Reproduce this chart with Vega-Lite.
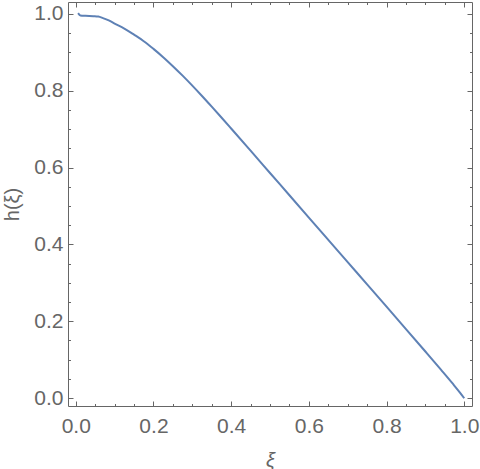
{
  "$schema": "https://vega.github.io/schema/vega-lite/v6.json",
  "width": 404,
  "height": 404,
  "autosize": {"type": "none"},
  "padding": {"left": 68, "top": 2, "right": 8, "bottom": 63},
  "background": "white",
  "data": {"values": [
    {"xi": 0.006, "h": 1.002},
    {"xi": 0.012, "h": 0.996},
    {"xi": 0.025, "h": 0.995},
    {"xi": 0.045, "h": 0.994},
    {"xi": 0.058, "h": 0.993},
    {"xi": 0.070, "h": 0.989},
    {"xi": 0.085, "h": 0.983},
    {"xi": 0.100, "h": 0.975},
    {"xi": 0.125, "h": 0.962},
    {"xi": 0.150, "h": 0.946},
    {"xi": 0.175, "h": 0.929},
    {"xi": 0.200, "h": 0.909},
    {"xi": 0.225, "h": 0.8875},
    {"xi": 0.250, "h": 0.864},
    {"xi": 0.275, "h": 0.8393},
    {"xi": 0.300, "h": 0.8133},
    {"xi": 0.325, "h": 0.7863},
    {"xi": 0.350, "h": 0.7585},
    {"xi": 0.375, "h": 0.7303},
    {"xi": 0.400, "h": 0.7017},
    {"xi": 0.450, "h": 0.644},
    {"xi": 0.500, "h": 0.586},
    {"xi": 0.550, "h": 0.528},
    {"xi": 0.600, "h": 0.470},
    {"xi": 0.650, "h": 0.412},
    {"xi": 0.700, "h": 0.354},
    {"xi": 0.750, "h": 0.296},
    {"xi": 0.800, "h": 0.238},
    {"xi": 0.850, "h": 0.1798},
    {"xi": 0.900, "h": 0.1213},
    {"xi": 0.940, "h": 0.0741},
    {"xi": 0.970, "h": 0.0381},
    {"xi": 0.990, "h": 0.0131},
    {"xi": 1.000, "h": -0.0004}
  ]},
  "layer": [
    {
      "mark": {"type": "line", "color": "#5E81B5", "strokeWidth": 2, "interpolate": "monotone"},
      "encoding": {
        "x": {"field": "xi", "type": "quantitative",
          "scale": {"domain": [-0.02, 1.02], "nice": false, "zero": false},
          "axis": {"orient": "bottom", "values": [0, 0.2, 0.4, 0.6, 0.8, 1], "format": ".1f",
            "tickSize": -5, "labelPadding": 14, "title": "ξ", "titleFontStyle": "italic",
            "titleX": 202, "titleY": 54, "titleBaseline": "middle", "titleAlign": "center"}},
        "y": {"field": "h", "type": "quantitative",
          "scale": {"domain": [-0.0205, 1.031], "nice": false, "zero": false},
          "axis": {"orient": "left", "values": [0, 0.2, 0.4, 0.6, 0.8, 1], "format": ".1f",
            "tickSize": -5, "labelPadding": 10, "title": "h(ξ)",
            "titleX": -56, "titleY": 202, "titleAngle": -90, "titleBaseline": "middle", "titleAlign": "center"}}
      }
    },
    {
      "mark": {"type": "line", "opacity": 0},
      "encoding": {
        "x": {"field": "xi", "type": "quantitative",
          "axis": {"orient": "bottom", "values": [0.05, 0.1, 0.15, 0.25, 0.3, 0.35, 0.45, 0.5, 0.55, 0.65, 0.7, 0.75, 0.85, 0.9, 0.95],
            "tickSize": -2.5, "labels": false, "domain": false, "title": null}},
        "y": {"field": "h", "type": "quantitative",
          "axis": {"orient": "left", "values": [0.05, 0.1, 0.15, 0.25, 0.3, 0.35, 0.45, 0.5, 0.55, 0.65, 0.7, 0.75, 0.85, 0.9, 0.95],
            "tickSize": -2.5, "labels": false, "domain": false, "title": null}}
      }
    },
    {
      "mark": {"type": "line", "opacity": 0},
      "encoding": {
        "x": {"field": "xi", "type": "quantitative",
          "axis": {"orient": "top", "values": [0, 0.2, 0.4, 0.6, 0.8, 1],
            "tickSize": -5, "labels": false, "title": null}},
        "y": {"field": "h", "type": "quantitative",
          "axis": {"orient": "right", "values": [0, 0.2, 0.4, 0.6, 0.8, 1],
            "tickSize": -5, "labels": false, "title": null}}
      }
    },
    {
      "mark": {"type": "line", "opacity": 0},
      "encoding": {
        "x": {"field": "xi", "type": "quantitative",
          "axis": {"orient": "top", "values": [0.05, 0.1, 0.15, 0.25, 0.3, 0.35, 0.45, 0.5, 0.55, 0.65, 0.7, 0.75, 0.85, 0.9, 0.95],
            "tickSize": -2.5, "labels": false, "domain": false, "title": null}},
        "y": {"field": "h", "type": "quantitative",
          "axis": {"orient": "right", "values": [0.05, 0.1, 0.15, 0.25, 0.3, 0.35, 0.45, 0.5, 0.55, 0.65, 0.7, 0.75, 0.85, 0.9, 0.95],
            "tickSize": -2.5, "labels": false, "domain": false, "title": null}}
      }
    }
  ],
  "resolve": {"axis": {"x": "independent", "y": "independent"}},
  "config": {
    "view": {"stroke": null},
    "axis": {
      "grid": false,
      "domainColor": "#666666",
      "domainWidth": 1,
      "tickColor": "#666666",
      "tickWidth": 1,
      "labelColor": "#666666",
      "labelFont": "Liberation Sans",
      "labelFontSize": 21,
      "labelFlush": false,
      "labelOverlap": false,
      "labelBound": false,
      "titleColor": "#666666",
      "titleFont": "Liberation Sans",
      "titleFontSize": 20,
      "titleFontWeight": "normal"
    }
  }
}
